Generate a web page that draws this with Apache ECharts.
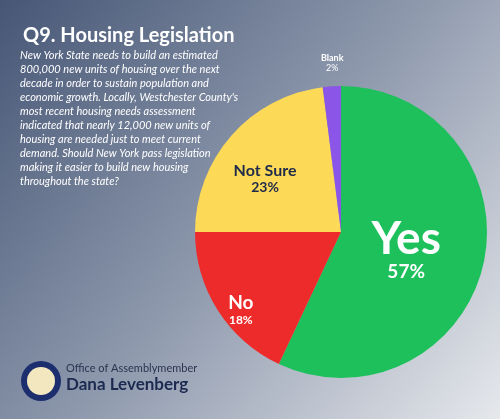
<!DOCTYPE html>
<html><head><meta charset="utf-8">
<script src="https://cdn.jsdelivr.net/npm/echarts@6/dist/echarts.min.js"></script>
<style>html,body{margin:0;padding:0}#c{width:500px;height:419px}</style>
</head><body><div id="c"></div>
<script>
const categories = ['Yes','No','Not Sure','Blank'];
const values = [57,18,23,2];
const colors = ['#1ec05c','#ee2b2b','#fcd957','#8b55e8'];
const labelStyles = [
  {position:'inside', offset:[-9,0], formatter:'{a|{b}}\n{p|{c}%}', rich:{a:{fontSize:46,fontWeight:'bold',color:'#fff',fontFamily:'Lato',lineHeight:46},p:{fontSize:19,color:'#fff',fontWeight:'bold',fontFamily:'Lato'}}},
  {position:'inside', offset:[-36,36], formatter:'{a|{b}}\n{p|{c}%}', rich:{a:{fontSize:19,fontWeight:'bold',color:'#fff',fontFamily:'Lato',lineHeight:22},p:{fontSize:12,color:'#fff',fontWeight:'bold',fontFamily:'Lato'}}},
  {position:'inside', offset:[-19,-4], formatter:'{a|{b}}\n{p|{c}%}', rich:{a:{fontSize:16,fontWeight:'bold',color:'#1d2a4a',fontFamily:'Lato',lineHeight:20},p:{fontSize:14,color:'#1d2a4a',fontWeight:'bold',fontFamily:'Lato'}}},
  {position:'inside', offset:[-4,-94], formatter:'{a|{b}}\n{p|{c}%}', rich:{a:{fontSize:9,fontWeight:'bold',color:'#fff',fontFamily:'Lato',lineHeight:11},p:{fontSize:9,color:'#fff',fontFamily:'Lato'}}}
];
const chart = echarts.init(document.getElementById('c'));
chart.setOption({
  backgroundColor: new echarts.graphic.LinearGradient(0,0,1,1,[{offset:0,color:'#465675'},{offset:0.5,color:'#8e99ad'},{offset:1,color:'#e6e8ec'}]),
  title:{text:'Q9. Housing Legislation',left:18,top:21,textStyle:{color:'#fff',fontSize:20,fontWeight:'bold',fontFamily:'Lato'}},
  graphic:[
    {type:'text',left:20,top:48,style:{text:"New York State needs to build an estimated\n800,000 new units of housing over the next\ndecade in order to sustain population and\neconomic growth. Locally, Westchester County's\nmost recent housing needs assessment\nindicated that nearly 12,000 new units of\nhousing are needed just to meet current\ndemand. Should New York pass legislation\nmaking it easier to build new housing\nthroughout the state?",fill:'#fff',fontSize:11,fontStyle:'italic',fontFamily:'Lato',lineHeight:14}},
    {type:'circle',shape:{cx:41,cy:381,r:20},style:{fill:'#1d2e6e'}},
    {type:'circle',shape:{cx:41,cy:381,r:14},style:{fill:'#f3e7c0'}},
    {type:'text',left:66,top:363,style:{text:'Office of Assemblymember',fill:'#2a3450',fontSize:11,fontFamily:'Lato'}},
    {type:'text',left:66,top:376,style:{text:'Dana Levenberg',fill:'#1c2a50',fontSize:17,fontWeight:'bold',fontFamily:'Lato'}}
  ],
  series:[{
    type:'pie', center:[341,232], radius:[0,146], startAngle:90, clockwise:true,
    labelLine:{show:false}, emphasis:{disabled:true},
    data: categories.map((c,i)=>({name:c,value:values[i],itemStyle:{color:colors[i]},label:labelStyles[i]}))
  }]
});
</script></body></html>
